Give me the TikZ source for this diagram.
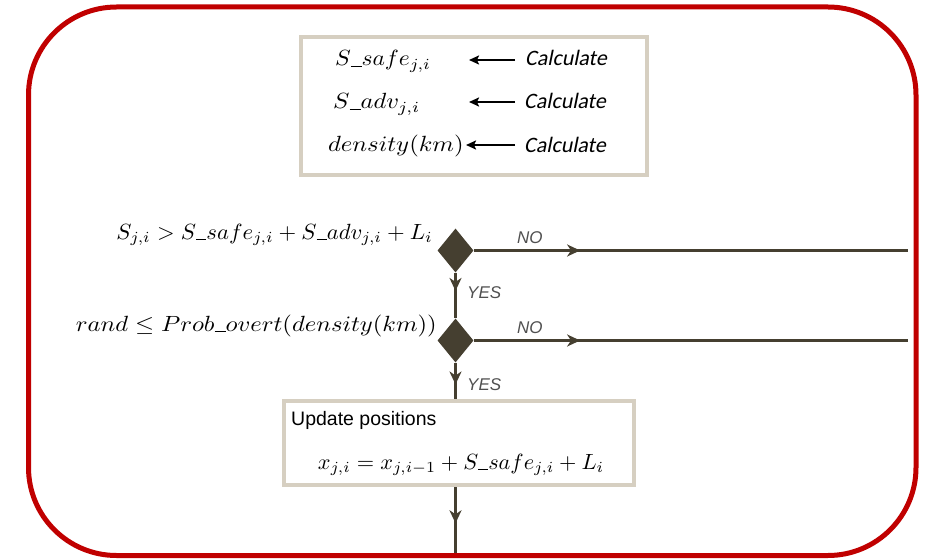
\documentclass[tikz,border=0pt]{standalone}
\usepackage{graphicx}
\usepackage{fontspec}
\newfontfamily\calfont{Carlito}[FakeSlant=0.2]
\newfontfamily\arialfont{Liberation Sans}
\usetikzlibrary{arrows.meta,decorations.markings,shapes.geometric}
\definecolor{redb}{HTML}{C00000}
\definecolor{boxb}{HTML}{D6CFC1}
\definecolor{flow}{HTML}{453F30}
\definecolor{lbl}{HTML}{505050}
\newcommand{\usc}{\rule[-0.3pt]{0.45em}{0.45pt}}
\newcommand{\fml}[2][2.35]{\scalebox{#1}[2.2]{$#2$}}
\tikzset{
  frame/.style={draw=redb, line width=5pt, rounded corners=88pt},
  infobox/.style={draw=boxb, line width=4pt, fill=white, inner sep=0pt},
  formula/.style={inner sep=0pt, font=\fontsize{10}{12}\selectfont},
  calc/.style={inner sep=0pt, font=\fontsize{22}{26}\selectfont\calfont},
  decision/.style={diamond, fill=flow, draw=none, inner sep=0pt, minimum width=36pt, minimum height=44pt, aspect=0.8},
  flowline/.style={draw=flow, line width=2.5pt},
  midarrow/.style={postaction={decorate}, decoration={markings, mark=at position #1 with {\arrow{Stealth[length=13pt,width=12pt,inset=4pt]}}}},
  lab/.style={inner sep=0pt, text=lbl, font=\fontsize{17}{20}\selectfont\arialfont\itshape},
  blackarrow/.style={draw=black, line width=2pt, -{Stealth[length=10pt,width=9pt,inset=2pt]}}
}
\begin{document}
\begin{tikzpicture}[x=1pt,y=-1pt]
\useasboundingbox (0,0) rectangle (929,559);
\draw[frame] (28.5,7) rectangle (916,555.5);

% top box
\node[infobox, minimum width=346pt, minimum height=138pt] (topbox) at (474,106) {};
\node[formula, anchor=base west] (f1) at (335,66) {\fml{S\usc safe_{j,i}}};
\node[formula, anchor=base west] (f2) at (333,109) {\fml[2.45]{S\usc adv_{j,i}}};
\node[formula, anchor=base east] (f3) at (464,152) {\fml[2.47]{density(km)}};
\node[calc, anchor=base west] (c1) at (525,66) {Calculate};
\node[calc, anchor=base west] (c2) at (524,109) {Calculate};
\node[calc, anchor=base west] (c3) at (524,153) {Calculate};
\coordinate (a1s) at (515,60); \coordinate (a1e) at (469,60);
\coordinate (a2s) at (515,102); \coordinate (a2e) at (469,102);
\coordinate (a3s) at (515,145); \coordinate (a3e) at (466,145);
\draw[blackarrow] (a1s) -- (a1e);
\draw[blackarrow] (a2s) -- (a2e);
\draw[blackarrow] (a3s) -- (a3e);

% decisions
\node[decision] (d1) at (455.5,250.5) {};
\node[decision] (d2) at (455.5,340.5) {};
\node[formula, anchor=base east] (cond1) at (433,239) {\fml[2.27]{S_{j,i} > S\usc safe_{j,i} + S\usc adv_{j,i} + L_i}};
\node[formula, anchor=base east] (cond2) at (437,331) {\fml[2.46]{rand \le Prob\usc overt(density(km))}};
\coordinate (n1) at (908,250.5);
\coordinate (n2) at (908,340.5);

% update box
\node[infobox, minimum width=350pt, minimum height=84pt] (upd) at (459,443) {};
\node[inner sep=0pt, anchor=base west, font=\fontsize{19.5}{23}\selectfont\arialfont] (updt) at (291,425) {Update positions};
\node[formula, anchor=base] (updf) at (461,469) {\fml[2.23]{x_{j,i} = x_{j,i-1} + S\usc safe_{j,i} + L_i}};
\coordinate (bot) at (455.5,553);

% flow lines
\draw[flowline, midarrow=0.245] (d1.east) -- (n1);
\draw[flowline, midarrow=0.245] (d2.east) -- (n2);
\draw[flowline, midarrow=0.4] (d1.south) -- (d2.north);
\draw[flowline, midarrow=0.6] (d2.south) -- (upd.north -| d2.south);
\draw[flowline, midarrow=0.55] (upd.south -| d2.south) -- (bot);

% labels
\node[lab, anchor=base west] (no1) at (517,243) {NO};
\node[lab, anchor=base west] (no2) at (517,333) {NO};
\node[lab, anchor=base west] (yes1) at (467,298) {YES};
\node[lab, anchor=base west] (yes2) at (467,390) {YES};
\end{tikzpicture}
\end{document}
